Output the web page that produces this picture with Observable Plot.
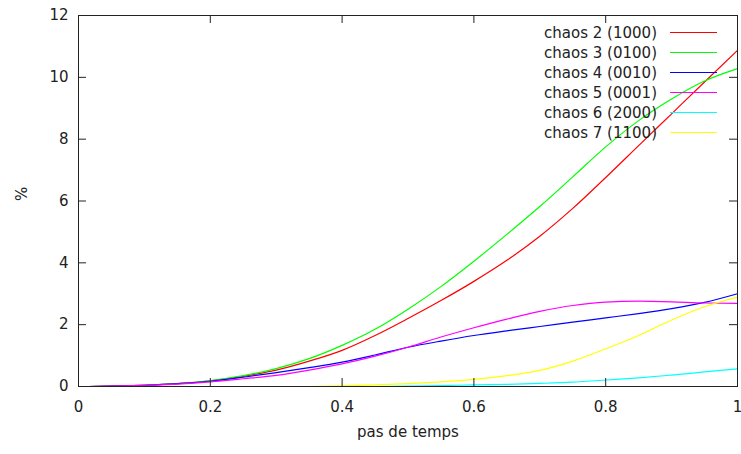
<!DOCTYPE html>
<html>
<head>
<meta charset="utf-8">
<script src="https://cdn.jsdelivr.net/npm/d3@7"></script>
<script src="https://cdn.jsdelivr.net/npm/@observablehq/plot@0.6"></script>
<style>
  html, body { margin: 0; padding: 0; background: #fff; }
  #chart { width: 741px; height: 454px; }
</style>
</head>
<body>
<div id="chart"></div>
<script>
// x positions (pas de temps)
const xs = [0.015, 0.05, 0.1, 0.15, 0.2, 0.25, 0.3, 0.35, 0.4, 0.45, 0.5, 0.55, 0.6, 0.65, 0.7, 0.75, 0.8, 0.85, 0.9, 0.95, 1.0];

// series values (%), null = not drawn
const chaos2 = [0, 0.01, 0.04, 0.09, 0.18, 0.33, 0.53, 0.82, 1.17, 1.65, 2.2, 2.78, 3.4, 4.08, 4.86, 5.76, 6.76, 7.79, 8.82, 9.85, 10.87];
const chaos3 = [0, 0.01, 0.04, 0.09, 0.19, 0.35, 0.58, 0.9, 1.33, 1.85, 2.5, 3.23, 4.05, 4.92, 5.82, 6.78, 7.75, 8.6, 9.3, 9.88, 10.28];
const chaos4 = [0, 0.01, 0.04, 0.09, 0.17, 0.3, 0.45, 0.61, 0.79, 1.02, 1.27, 1.47, 1.65, 1.8, 1.94, 2.08, 2.22, 2.36, 2.52, 2.72, 3.0];
const chaos5 = [0, 0.01, 0.04, 0.08, 0.15, 0.25, 0.36, 0.53, 0.73, 0.98, 1.27, 1.6, 1.9, 2.18, 2.43, 2.62, 2.73, 2.76, 2.74, 2.7, 2.69];
const chaos6 = [null, null, null, null, null, null, null, null, null, 0, 0.01, 0.03, 0.05, 0.07, 0.1, 0.14, 0.21, 0.28, 0.37, 0.47, 0.57];
const chaos7 = [null, null, null, null, null, null, null, 0, 0.02, 0.05, 0.09, 0.15, 0.23, 0.35, 0.52, 0.82, 1.22, 1.65, 2.15, 2.58, 2.89];

const seriesNames = ["chaos 2 (1000)", "chaos 3 (0100)", "chaos 4 (0010)", "chaos 5 (0001)", "chaos 6 (2000)", "chaos 7 (1100)"];
const seriesColors = ["#ff0000", "#00ff00", "#0000ff", "#ff00ff", "#00ffff", "#ffff00"];
const seriesValues = [chaos2, chaos3, chaos4, chaos5, chaos6, chaos7];

const xTicks = [0, 0.2, 0.4, 0.6, 0.8, 1];
const yTicks = [0, 2, 4, 6, 8, 10, 12];

const xLabel = "pas de temps";
const yLabel = "%";

// build long table
const table = [];
seriesValues.forEach((vals, s) => {
  vals.forEach((v, i) => {
    if (v != null) table.push({series: seriesNames[s], x: xs[i], y: v});
  });
});

const W = 741, H = 454;
const mL = 78, mR = 4, mT = 15, mB = 68;
const plotW = W - mL - mR, plotH = H - mT - mB;
const tickLen = 8;
const font = "DejaVu Sans";
const fs = 15;

const svg = Plot.plot({
  width: W,
  height: H,
  marginLeft: mL,
  marginRight: mR,
  marginTop: mT,
  marginBottom: mB,
  style: {fontFamily: font, fontSize: fs + "px", background: "#fff", color: "#222", overflow: "visible"},
  x: {domain: [0, 1], ticks: xTicks},
  y: {domain: [0, 12], ticks: yTicks},
  color: {domain: seriesNames, range: seriesColors},
  marks: [
    Plot.axisX(xTicks, {tickSize: 0, tickPadding: 15, label: null, fill: "#222", tickFormat: d => String(d)}),
    Plot.axisY(yTicks, {tickSize: 0, tickPadding: 10, label: null, fill: "#222", tickFormat: d => String(d)}),
    Plot.line(table, {x: "x", y: "y", z: "series", stroke: "series", strokeWidth: 1.2, curve: "monotone-x"}),
    // inward ticks, mirrored on all four sides
    Plot.tickX(xTicks, {x: d => d, insetTop: plotH - tickLen, stroke: "#222"}),
    Plot.tickX(xTicks, {x: d => d, insetBottom: plotH - tickLen, stroke: "#222"}),
    Plot.tickY(yTicks, {y: d => d, insetRight: plotW - tickLen, stroke: "#222"}),
    Plot.tickY(yTicks, {y: d => d, insetLeft: plotW - tickLen, stroke: "#222"}),
    Plot.frame({stroke: "#222"}),
    Plot.text([xLabel], {frameAnchor: "bottom", dy: 50, text: d => d, fill: "#222"}),
    Plot.text([yLabel], {frameAnchor: "left", dx: -56, rotate: -90, text: d => d, fill: "#222"})
  ]
});

// legend (top-right, inside the frame)
const lg = d3.select(svg).append("g").attr("font-family", font).attr("font-size", fs + "px");
const right = W - mR;
seriesNames.forEach((name, i) => {
  const cy = mT + 17.5 + 20 * i;
  lg.append("text")
    .attr("x", right - 80).attr("y", cy).attr("dy", "0.35em")
    .attr("text-anchor", "end").attr("fill", "#222").text(name);
  lg.append("line")
    .attr("x1", right - 67).attr("x2", right - 20)
    .attr("y1", cy).attr("y2", cy)
    .attr("stroke", seriesColors[i]).attr("stroke-width", 1.2);
});

document.getElementById("chart").appendChild(svg);
</script>
</body>
</html>
